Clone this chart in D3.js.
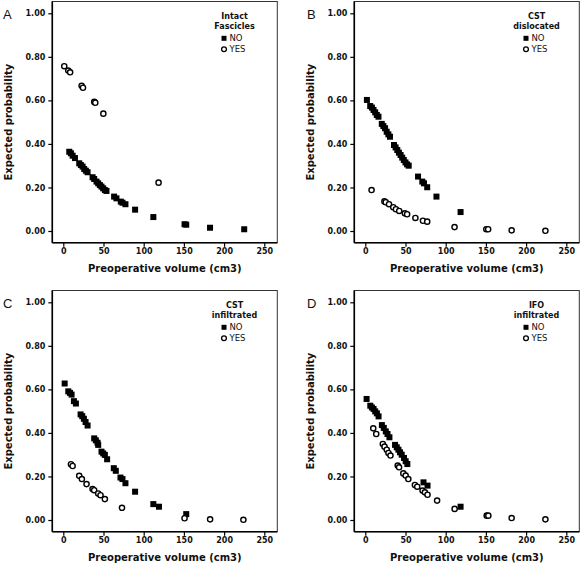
<!DOCTYPE html>
<html><head><meta charset="utf-8">
<script src="https://cdn.jsdelivr.net/npm/d3@7"></script>
<style>body{margin:0;background:#fff}svg{display:block}</style>
</head><body>
<svg id="chart" width="581" height="566"></svg>
<script>
// ---- data ----
const xTicks = [0, 50, 100, 150, 200, 250];
const yTicks = [0, 0.2, 0.4, 0.6, 0.8, 1.0];
const panelLetters = ["A", "B", "C", "D"];
const legendTitles = [["Intact", "Fascicles"], ["CST", "dislocated"], ["CST", "infiltrated"], ["IFO", "infiltrated"]];
const groupLabels = ["NO", "YES"];
const xTitle = "Preoperative volume (cm3)";
const yTitle = "Expected probability";

// [volume, expected probability]
const aNo = [[7.4,0.364],[9.5,0.357],[11.6,0.346],[14.5,0.335],[19.8,0.311],[21.9,0.303],[24.0,0.296],[26.0,0.285],[28.1,0.277],[30.2,0.270],[36.4,0.247],[38.4,0.239],[41.3,0.227],[43.4,0.219],[45.5,0.211],[47.5,0.204],[49.6,0.196],[51.7,0.188],[53.7,0.184],[63.2,0.158],[66.1,0.150],[71.5,0.135],[73.6,0.130],[77.3,0.123],[89.3,0.098],[112,0.064],[150.8,0.031],[152.9,0.029],[182.5,0.015],[225,0.008]];
const aYes = [[1.2,0.757],[6.2,0.737],[8.5,0.729],[22.8,0.667],[24.5,0.658],[38.5,0.593],[39.8,0.589],[49.8,0.539],[118.5,0.222]];

const bNo = [[2,0.602],[6.1,0.574],[8.2,0.567],[10.2,0.556],[12.3,0.545],[14.3,0.533],[16.4,0.525],[20.5,0.492],[22.5,0.482],[24.6,0.472],[26.6,0.456],[28.7,0.444],[30.7,0.433],[35.7,0.395],[37.7,0.384],[39.8,0.372],[41.8,0.360],[43.9,0.349],[45.9,0.337],[47.9,0.326],[50,0.315],[52,0.306],[54,0.300],[65.6,0.250],[70.9,0.227],[73,0.219],[77,0.201],[88.5,0.158],[118.5,0.087]];
const bYes = [[7.8,0.188],[23.8,0.136],[25.4,0.132],[29.5,0.123],[34.8,0.109],[38.1,0.100],[42.2,0.092],[49.2,0.081],[52,0.077],[62.3,0.060],[71.7,0.047],[77,0.043],[111,0.018],[150.5,0.008],[152.8,0.008],[182,0.003],[224,0.001]];

const cNo = [[1.7,0.627],[6.2,0.591],[8.3,0.584],[10.3,0.576],[13.2,0.546],[15.7,0.535],[21.5,0.485],[23.6,0.477],[25.6,0.465],[27.7,0.450],[30.2,0.434],[38.4,0.375],[40.5,0.366],[42.6,0.355],[43.4,0.345],[47.5,0.314],[49.6,0.306],[51.7,0.299],[54.5,0.279],[62.8,0.238],[65.3,0.226],[71.1,0.195],[73.6,0.188],[77.3,0.169],[89.3,0.130],[112,0.073],[119,0.061],[152.9,0.027]];
const cYes = [[9.5,0.256],[11.6,0.248],[19.8,0.203],[23.1,0.188],[28.9,0.165],[36.4,0.142],[38.4,0.137],[43.4,0.122],[46.3,0.114],[51.7,0.096],[73,0.056],[150.8,0.008],[182.6,0.003],[224,0.001]];

const dNo = [[1.6,0.556],[6.2,0.525],[8.2,0.517],[10.3,0.510],[12.3,0.499],[14.4,0.490],[16.5,0.476],[20.6,0.436],[23,0.423],[25.5,0.407],[27.6,0.395],[30,0.380],[37,0.345],[39.1,0.334],[41.2,0.323],[43.2,0.311],[45.3,0.300],[48.1,0.285],[50.2,0.270],[52.3,0.257],[72.4,0.173],[77.4,0.158],[118.5,0.061]];
const dYes = [[9.9,0.421],[13.6,0.395],[21.8,0.349],[23.9,0.337],[26.7,0.323],[28.8,0.308],[31.3,0.296],[40.3,0.250],[42,0.242],[47.3,0.214],[50.2,0.204],[53.5,0.188],[61.7,0.161],[64.6,0.153],[71.2,0.135],[74.1,0.127],[77.4,0.116],[89.3,0.089],[111.1,0.051],[151,0.020],[153,0.020],[182,0.009],[224,0.003]];

const panelsNo = [aNo, bNo, cNo, dNo];
const panelsYes = [aYes, bYes, cYes, dYes];
const offsets = [[0,0],[302,0],[0,289],[302,289]];

// ---- drawing ----
const svg = d3.select("#chart");
const FONT = "DejaVu Sans, sans-serif";
const frame = {left: 52.3, right: 277.3, top: 1.5, bottom: 242.7};
const x = d3.scaleLinear().domain([0, 250]).range([63.3, 264.3]);
const y = d3.scaleLinear().domain([0, 1]).range([231, 13.3]);

panelLetters.forEach((letter, i) => {
  const g = svg.append("g").attr("transform", `translate(${offsets[i][0]},${offsets[i][1]})`);

  // frame
  g.append("rect")
    .attr("x", frame.left).attr("y", frame.top)
    .attr("width", frame.right - frame.left).attr("height", frame.bottom - frame.top)
    .attr("fill", "none").attr("stroke", "#333").attr("stroke-width", 1);

  // y axis
  const ya = g.append("g").attr("transform", `translate(${frame.left},0)`)
    .call(d3.axisLeft(y).tickValues(yTicks).tickFormat(d3.format(".2f")).tickSize(4).tickPadding(3));
  ya.select(".domain").remove();
  ya.selectAll("line").attr("stroke", "#000").attr("stroke-width", 1.2);
  ya.selectAll("text").attr("font-family", FONT).attr("font-size", 8).attr("font-weight", "bold").attr("fill", "#111");

  // x axis
  const xa = g.append("g").attr("transform", `translate(0,${frame.bottom})`)
    .call(d3.axisBottom(x).tickValues(xTicks).tickFormat(d3.format("d")).tickSize(4).tickPadding(2));
  xa.select(".domain").remove();
  xa.selectAll("line").attr("stroke", "#000").attr("stroke-width", 1.2);
  xa.selectAll("text").attr("font-family", FONT).attr("font-size", 8).attr("font-weight", "bold").attr("fill", "#111");

  // left & bottom axis lines
  g.append("line").attr("x1", frame.left).attr("x2", frame.left).attr("y1", frame.top).attr("y2", frame.bottom)
    .attr("stroke", "#000").attr("stroke-width", 1.6);
  g.append("line").attr("x1", frame.left).attr("x2", frame.right).attr("y1", frame.bottom).attr("y2", frame.bottom)
    .attr("stroke", "#000").attr("stroke-width", 1.6);

  // titles
  g.append("text").attr("x", (frame.left + frame.right) / 2).attr("y", 271.5)
    .attr("text-anchor", "middle").attr("font-family", FONT).attr("font-size", 10).attr("font-weight", "bold")
    .attr("fill", "#111").text(xTitle);
  g.append("text").attr("transform", `translate(12,${(frame.top + frame.bottom) / 2}) rotate(-90)`)
    .attr("text-anchor", "middle").attr("font-family", FONT).attr("font-size", 10).attr("font-weight", "bold")
    .attr("fill", "#111").text(yTitle);

  // panel letter
  g.append("text").attr("x", i % 2 === 0 ? 3 : 5).attr("y", 18.5)
    .attr("font-family", "Liberation Sans, Arial, sans-serif").attr("font-size", 13)
    .attr("fill", "#111").text(letter);

  // points: NO squares
  const sq = 6;
  g.append("g").selectAll("rect").data(panelsNo[i]).join("rect")
    .attr("x", d => x(d[0]) - sq / 2).attr("y", d => y(d[1]) - sq / 2)
    .attr("width", sq).attr("height", sq).attr("fill", "#000");
  // YES circles
  g.append("g").selectAll("circle").data(panelsYes[i]).join("circle")
    .attr("cx", d => x(d[0])).attr("cy", d => y(d[1])).attr("r", 2.6)
    .attr("fill", "#fff").attr("stroke", "#000").attr("stroke-width", 1.4);

  // legend
  const lx = 234.5;
  g.append("text").attr("x", lx).attr("y", 18.5).attr("text-anchor", "middle")
    .attr("font-family", FONT).attr("font-size", 8).attr("font-weight", "bold").attr("fill", "#111")
    .text(legendTitles[i][0]);
  g.append("text").attr("x", lx).attr("y", 29).attr("text-anchor", "middle")
    .attr("font-family", FONT).attr("font-size", 8).attr("font-weight", "bold").attr("fill", "#111")
    .text(legendTitles[i][1]);
  g.append("rect").attr("x", 224 - 2.5).attr("y", 38.3 - 2.5).attr("width", 5).attr("height", 5).attr("fill", "#000");
  g.append("circle").attr("cx", 224).attr("cy", 49.3).attr("r", 2.4)
    .attr("fill", "#fff").attr("stroke", "#000").attr("stroke-width", 1.3);
  g.append("text").attr("x", 229.5).attr("y", 41.3).attr("font-family", FONT).attr("font-size", 8.5)
    .attr("fill", "#111").text(groupLabels[0]);
  g.append("text").attr("x", 229.5).attr("y", 52.3).attr("font-family", FONT).attr("font-size", 8.5)
    .attr("fill", "#111").text(groupLabels[1]);
});
</script>
</body></html>
